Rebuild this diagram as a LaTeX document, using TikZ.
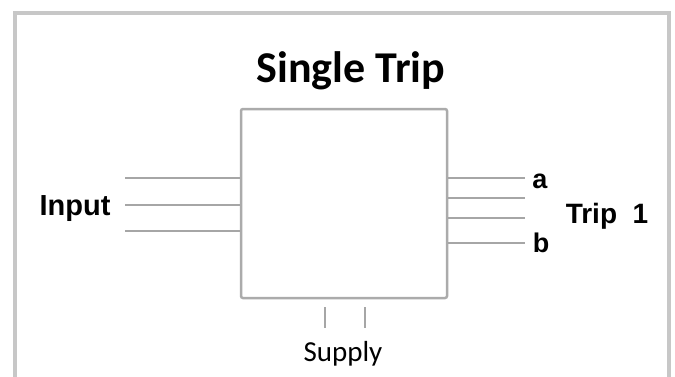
\documentclass[tikz,border=0pt]{standalone}
\usepackage{fontspec}
\setmainfont{Carlito}
\newfontfamily\arialfont{Liberation Sans}
\usetikzlibrary{positioning,calc}

\begin{document}
\begin{tikzpicture}
    [x=1pt,y=-1pt,inner sep=0pt,
     block/.style={rectangle,draw=black!33,line width=2.5pt,rounded corners=2pt,
                   minimum width=206pt,minimum height=189pt},
     wire/.style={draw=black!35,line width=2pt},
     frame/.style={draw=black!22,line width=3.5pt},
     label/.style={font=\arialfont\bfseries\fontsize{29}{32}\selectfont,anchor=base}]
    \useasboundingbox (0,0) rectangle (675,376);
    \draw[frame] (15,13) rectangle (669,390);
    \node (T) at (351,82) [anchor=base,font=\bfseries\fontsize{44}{48}\selectfont] {Single Trip};
    \node (B) at (344,203.5) [block] {};
    % input side
    \node (I) at (75,215) [label] {Input};
    \coordinate (i1) at (125,178);
    \coordinate (i2) at (125,205);
    \coordinate (i3) at (125,231);
    \draw[wire] (i1) -- (i1 -| B.west)
                (i2) -- (i2 -| B.west)
                (i3) -- (i3 -| B.west);
    % trip side
    \coordinate (o1) at (525,178);
    \coordinate (o2) at (525,198);
    \coordinate (o3) at (525,218);
    \coordinate (o4) at (525,243);
    \draw[wire] (o1 -| B.east) -- (o1)
                (o2 -| B.east) -- (o2)
                (o3 -| B.east) -- (o3)
                (o4 -| B.east) -- (o4);
    \node (a) at (540,188) [label,font=\arialfont\bfseries\fontsize{27}{30}\selectfont] {a};
    \node (b) at (541,252) [label,font=\arialfont\bfseries\fontsize{27}{30}\selectfont] {b};
    \node (R) at (607,223) [label,font=\arialfont\bfseries\fontsize{28}{30}\selectfont] {Trip\ \ 1};
    % supply
    \coordinate (s1) at (325,307);
    \coordinate (s2) at (365,307);
    \draw[wire] (s1) -- ++(0,21)
                (s2) -- ++(0,21);
    \node (S) at (343,361) [anchor=base,font=\fontsize{29}{32}\selectfont] {Supply};
\end{tikzpicture}
\end{document}
